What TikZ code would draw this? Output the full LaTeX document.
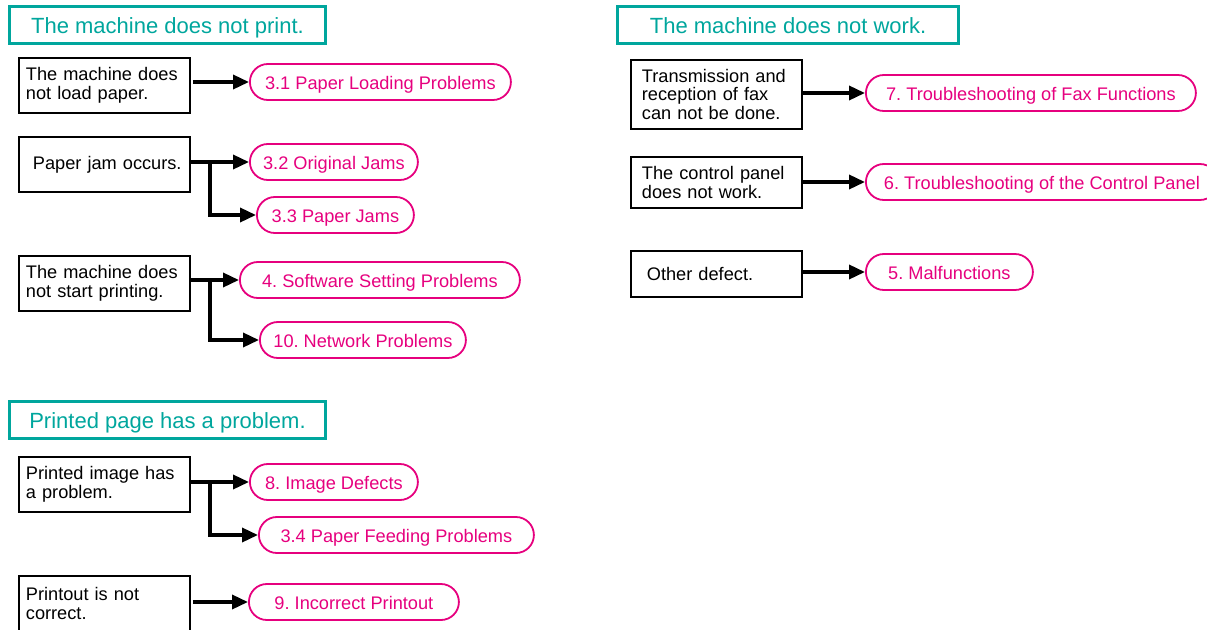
\documentclass[tikz,border=0pt]{standalone}
\usepackage{fontspec}
\setmainfont{Liberation Sans}
\usetikzlibrary{arrows.meta}
\definecolor{headteal}{RGB}{0,166,157}
\definecolor{fixpink}{RGB}{230,0,126}
\frenchspacing
\tikzset{
    header/.style={draw=headteal, line width=3pt, text=headteal, minimum height=37pt,
        text height=19pt, text depth=2pt, font=\fontsize{22pt}{24pt}\selectfont, inner sep=0pt},
    cause/.style={draw, line width=1.8pt, anchor=north west, align=left, inner xsep=7pt,
        text width=157pt, font=\fontsize{18.2pt}{18.5pt}\selectfont},
    causer/.style={cause, inner xsep=11pt, text width=149pt},
    fix/.style={draw=fixpink, line width=1.8pt, text=fixpink, anchor=west, minimum height=36pt,
        rounded corners=18pt, inner sep=0pt, text height=17pt, text depth=2pt,
        font=\fontsize{18.2pt}{18.5pt}\selectfont},
    link/.style={line width=3.5pt, -{Triangle[length=16pt, width=14pt]}}
}

\begin{document}
\begin{tikzpicture}[x=1pt, y=-1pt]
    \useasboundingbox (0,0) rectangle (1207,629);
    % Section headers
    \node[header, minimum width=316pt] (hprint) at (167.5,25) {The machine does not print.};
    \node[header, minimum width=341pt] (hwork) at (788,25) {The machine does not work.};
    \node[header, minimum width=316pt] (hpage) at (167.5,420) {Printed page has a problem.};
    % Symptoms, left column
    \node[cause, minimum height=55pt] (load) at (18,57) {The machine does\\not load paper.};
    \node[cause, minimum height=55pt] (jam) at (18,136) {\hspace*{7pt}Paper jam occurs.};
    \node[cause, minimum height=55pt] (start) at (18,255) {The machine does\\not start printing.};
    \node[cause, minimum height=55pt] (image) at (18,456) {Printed image has\\a problem.};
    \node[cause, minimum height=55pt] (printout) at (18,575) {Printout is not\\correct.};
    % Symptoms, right column
    \node[causer, minimum height=69pt] (fax) at (630,59) {Transmission and\\reception of fax\\can not be done.};
    \node[causer, minimum height=51pt] (panel) at (630,156) {The control panel\\does not work.};
    \node[causer, minimum height=46pt] (other) at (630,250) {\hspace*{5pt}Other defect.};
    % Chapters to look up
    \node[fix, minimum width=261pt] (c31) at (249,82) {3.1 Paper Loading Problems};
    \node[fix, minimum width=168pt] (c32) at (249,162) {3.2 Original Jams};
    \node[fix, minimum width=157pt] (c33) at (256,215) {3.3 Paper Jams};
    \node[fix, minimum width=280pt] (c4) at (239,280) {4. Software Setting Problems};
    \node[fix, minimum width=206pt] (c10) at (259,340) {10. Network Problems};
    \node[fix, minimum width=168pt] (c8) at (249,482) {8. Image Defects};
    \node[fix, minimum width=275pt] (c34) at (258,535) {3.4 Paper Feeding Problems};
    \node[fix, minimum width=210pt] (c9) at (248,602) {9. Incorrect Printout};
    \node[fix, minimum width=330pt] (c7) at (865,93) {7. Troubleshooting of Fax Functions};
    \node[fix, minimum width=352pt] (c6) at (865,182) {6. Troubleshooting of the Control Panel};
    \node[fix, minimum width=167pt] (c5) at (865,272) {5. Malfunctions};
    % Single arrows
    \draw[link] ([xshift=2pt]load.east |- c31.west) -- (c31.west);
    \draw[link] ([xshift=2pt]printout.east |- c9.west) -- (c9.west);
    \draw[link] (fax.east |- c7.west) -- (c7.west);
    \draw[link] (panel.east |- c6.west) -- (c6.west);
    \draw[link] (other.east |- c5.west) -- (c5.west);
    % Branched arrows
    \draw[link] (jam.east |- c32.west) -- (c32.west);
    \draw[link] ([xshift=19pt]jam.east |- c32.west) |- (c33.west);
    \draw[link] (start.east |- c4.west) -- (c4.west);
    \draw[link] ([xshift=19pt]start.east |- c4.west) |- (c10.west);
    \draw[link] (image.east |- c8.west) -- (c8.west);
    \draw[link] ([xshift=19pt]image.east |- c8.west) |- (c34.west);
\end{tikzpicture}
\end{document}
